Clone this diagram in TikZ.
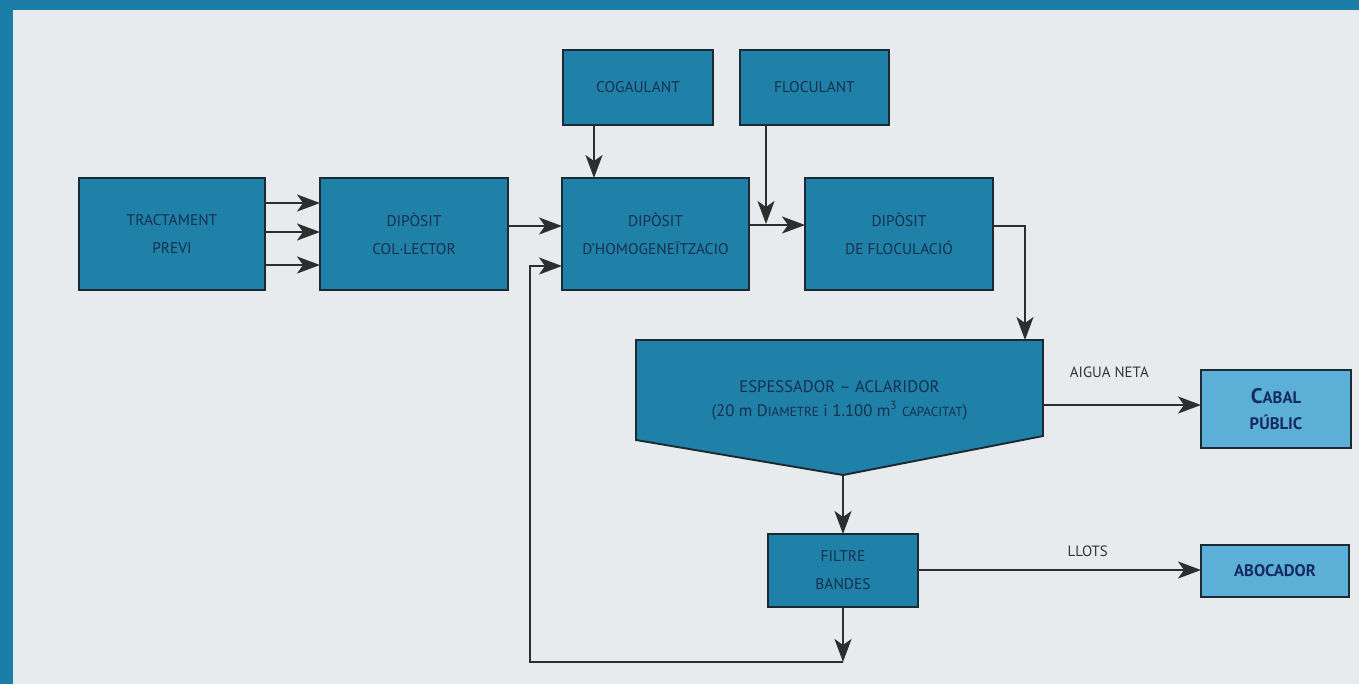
\documentclass[tikz,border=0pt]{standalone}
\usepackage{fontspec}
\setmainfont{PT Sans}
\usepackage{tikz}
\usetikzlibrary{arrows.meta, positioning, calc}

\definecolor{cadreblau}{HTML}{1A7EA8}
\definecolor{fonsgris}{HTML}{E8EBEE}
\definecolor{caixafosc}{HTML}{1F80A8}
\definecolor{caixaclar}{HTML}{5CB0D8}
\definecolor{vora}{HTML}{1B2A33}
\definecolor{textfosc}{HTML}{17304D}
\definecolor{fletxa}{HTML}{2E2E2E}

\begin{document}
\begin{tikzpicture}[
  x=0.02cm, y=-0.02cm,
  caixa/.style={
    draw=vora, fill=caixafosc, line width=1.1pt, text=textfosc,
    align=center, inner sep=0pt, outer sep=0pt,
    font=\fontsize{8.8}{16}\selectfont
  },
  caixaclara/.style={
    caixa, fill=caixaclar, text=textfosc!90!blue,
    font=\fontsize{9.5}{15}\selectfont\bfseries
  },
  etiqueta/.style={
    text=black!80, font=\fontsize{8.5}{10}\selectfont, inner sep=1pt
  },
  flux/.style={
    -{Stealth[length=4.6mm, width=3.4mm, inset=1.2mm]},
    draw=fletxa, line width=1.3pt
  }
]

% ----- fons i marc -----
\fill[cadreblau] (0,0) rectangle (1359,684);
\fill[fonsgris] (13,10) rectangle (1359,684);

% ----- fila superior -----
\node[caixa, minimum width=3.72cm, minimum height=2.24cm] (tract) at (172,234)
  {TRACTAMENT\\PREVI};
\node[caixa, minimum width=3.76cm, minimum height=2.24cm] (col) at (414,234)
  {DIPÒSIT\\COL·LECTOR};
\node[caixa, minimum width=3.74cm, minimum height=2.24cm] (homog) at (655.5,234)
  {DIPÒSIT\\D'HOMOGENEÏTZACIO};
\node[caixa, minimum width=3.76cm, minimum height=2.24cm] (floc) at (899,234)
  {DIPÒSIT\\DE FLOCULACIÓ};

\node[caixa, minimum width=3.00cm, minimum height=1.50cm] (coag) at (638,87.5)
  {COGAULANT};
\node[caixa, minimum width=2.98cm, minimum height=1.50cm] (flocul) at (814.5,87.5)
  {FLOCULANT};

% ----- espessador -----
\draw[draw=vora, fill=caixafosc, line width=1.1pt]
  (636,340) -- (1043,340) -- (1043,436) -- (843,475) -- (636,440) -- cycle;
\node[text=textfosc, align=center, inner sep=0pt, outer sep=0pt,
      minimum width=8.14cm, minimum height=2.40cm,
      font=\fontsize{9.5}{13.6}\selectfont] (esp) at (839.5,400)
  {ESPESSADOR -- ACLARIDOR\\(20 m D{\fontsize{7.5}{9}\selectfont IAMETRE} i 1.100 m\textsuperscript{3} {\fontsize{7.5}{9}\selectfont CAPACITAT})};
\coordinate (espTip) at (843,475);

% ----- fila inferior -----
\node[caixa, minimum width=3.00cm, minimum height=1.46cm] (filtre) at (843,570.5)
  {FILTRE\\BANDES};
\node[caixaclara, minimum width=3.00cm, minimum height=1.56cm] (cabal) at (1276,409)
  {{\fontsize{12}{15}\selectfont C}ABAL\\PÚBLIC};
\node[caixaclara, minimum width=2.96cm, minimum height=1.04cm] (aboc) at (1275,571)
  {ABOCADOR};

\coordinate (junc) at (766,224);
\coordinate (ret) at (843,662);
\coordinate (retCorner) at (530,662);

% Fluxos
\foreach \yy in {203,232,265}
  \draw[flux] (tract.east |- 0,\yy) -- (col.west |- 0,\yy);
\draw[flux] (col.east |- 0,226) -- (homog.west |- 0,226);
\draw[flux] (coag.south -| 594,0) -- (homog.north -| 594,0);
\draw[flux] (flocul.south -| 766,0) -- (junc);
\draw[flux] (homog.east |- 0,225) -- (floc.west |- 0,225);
\draw[flux] (floc.east |- 0,226) -| (1025,340);
\draw[flux] (espTip) -- (filtre.north);
\draw[flux] (esp.east |- 0,405) -- (cabal.west |- 0,405)
  node[etiqueta, pos=0.42, above=14pt] {AIGUA NETA};
\draw[flux] (filtre.east |- 0,570) -- (aboc.west |- 0,570)
  node[etiqueta, pos=0.6, above=6pt] {LLOTS};
\draw[flux] (filtre.south) -- (ret);
\draw[flux] (ret) -- (retCorner) |- (homog.west |- 0,266);

\end{tikzpicture}
\end{document}
